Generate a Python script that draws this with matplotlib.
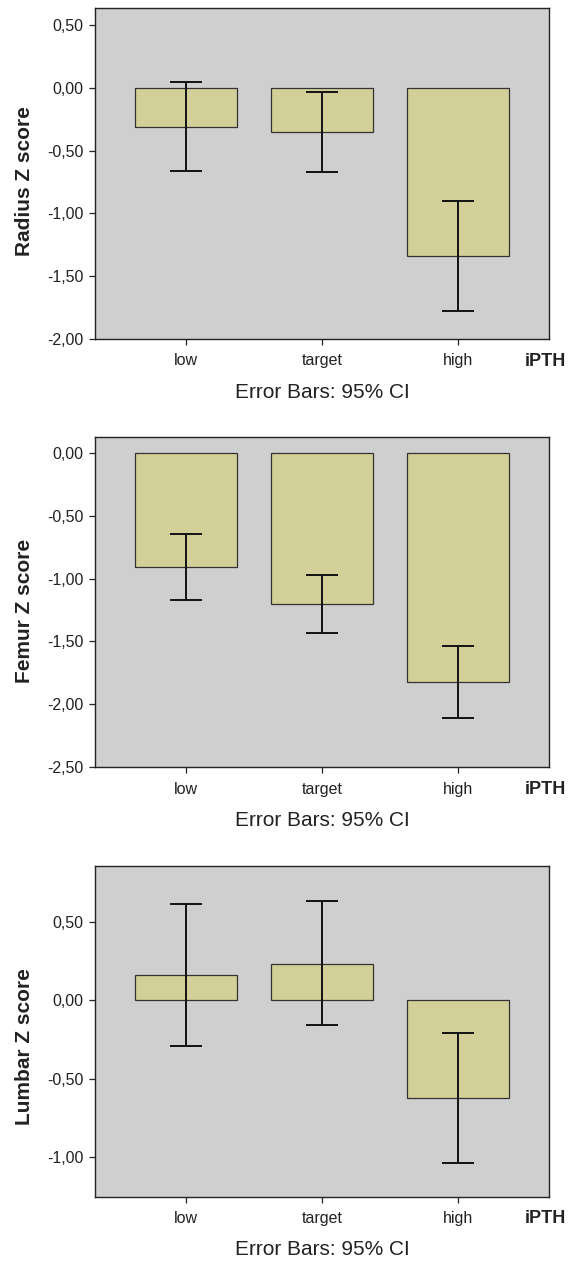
import numpy as np
import matplotlib
matplotlib.use("Agg")
import matplotlib.pyplot as plt
from matplotlib.ticker import FuncFormatter

plt.rcParams['font.family'] = ['Liberation Sans', 'DejaVu Sans']

# data (means and 95% CI bounds)
groups = ["low", "target", "high"]

radius_mean = [-0.31, -0.355, -1.34]
radius_lo = [-0.66, -0.67, -1.78]
radius_hi = [0.05, -0.03, -0.90]

femur_mean = [-0.91, -1.20, -1.82]
femur_lo = [-1.17, -1.43, -2.105]
femur_hi = [-0.65, -0.97, -1.535]

lumbar_mean = [0.163, 0.234, -0.62]
lumbar_lo = [-0.29, -0.16, -1.035]
lumbar_hi = [0.615, 0.632, -0.205]

ylabels = ["Radius Z score", "Femur Z score", "Lumbar Z score"]
ylims = [(-2.0, 0.633), (-2.5, 0.127), (-1.25, 0.857)]
yticks = [np.arange(-2.0, 0.51, 0.5), np.arange(-2.5, 0.01, 0.5), np.arange(-1.0, 0.51, 0.5)]
ylabel_y = [0.478, 0.474, 0.453]

W, H = 577, 1264
fig = plt.figure(figsize=(W / 100, H / 100), dpi=100)

# axes placement in pixels (top, bottom)
panel_px = [(8.3, 339.0), (436.7, 767.3), (865.7, 1196.7)]
left_px, right_px = 95.0, 549.0

bg = "#cecfce"
bar_col = "#d3cf98"
fmt = FuncFormatter(lambda v, p: f"{v:.2f}".replace(".", ","))

panels = [
    (radius_mean, radius_lo, radius_hi),
    (femur_mean, femur_lo, femur_hi),
    (lumbar_mean, lumbar_lo, lumbar_hi),
]

x = np.arange(len(groups))
for i, (mean, lo, hi) in enumerate(panels):
    top, bot = panel_px[i]
    ax = fig.add_axes([left_px / W, 1 - bot / H, (right_px - left_px) / W, (bot - top) / H])
    ax.set_facecolor(bg)
    mean = np.array(mean)
    ax.bar(x, mean, width=0.75, color=bar_col, edgecolor="#333333", linewidth=0.9, zorder=2)
    yerr = [mean - np.array(lo), np.array(hi) - mean]
    ax.errorbar(x, mean, yerr=yerr, fmt="none", ecolor="#111111", elinewidth=1.4,
                capsize=11.5, capthick=1.4, zorder=3)
    ax.set_xlim(-0.67, 2.67)
    ax.set_ylim(*ylims[i])
    ax.set_yticks(yticks[i])
    ax.yaxis.set_major_formatter(fmt)
    ax.set_xticks(x)
    ax.set_xticklabels(groups)
    ax.tick_params(axis="both", labelsize=11.5, length=4.3, width=0.9, color="#222222",
                   labelcolor="#222222")
    ax.tick_params(axis="x", pad=6)
    ax.tick_params(axis="y", pad=4)
    for s in ax.spines.values():
        s.set_linewidth(1.0)
        s.set_color("#222222")
    ax.set_ylabel(ylabels[i], fontsize=15, fontweight="bold", color="#222222")
    ax.yaxis.set_label_coords(-0.135, ylabel_y[i])
    ax.text(0.991, -22 / (bot - top), "iPTH", transform=ax.transAxes, ha="center", va="center",
            fontsize=13, fontweight="bold", color="#222222")
    ax.text(0.5, -53 / (bot - top), "Error Bars: 95% CI", transform=ax.transAxes,
            ha="center", va="center", fontsize=15, color="#222222")

fig.savefig("out.png", dpi=100, facecolor="white")
